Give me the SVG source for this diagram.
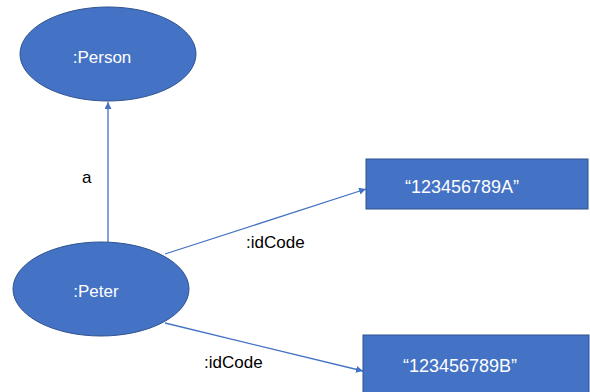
<svg xmlns="http://www.w3.org/2000/svg" width="590" height="392" viewBox="0 0 590 392">
  <style>
    .node { fill: #4472C4; stroke: #2F528F; stroke-width: 1; }
    .ntext { fill: #FFFFFF; font-family: "Liberation Sans", Arial, sans-serif; font-size: 17px; text-anchor: middle; }
    .lit { fill: #FFFFFF; font-family: "Liberation Sans", Arial, sans-serif; font-size: 18px; }
    .edge { stroke: #4472C4; stroke-width: 1.3; fill: none; marker-end: url(#arrow); }
    .elabel { fill: #000000; font-family: "Liberation Sans", Arial, sans-serif; font-size: 17px; }
  </style>
  <defs>
    <marker id="arrow" viewBox="0 0 10 10" refX="10" refY="5" markerWidth="7" markerHeight="7" markerUnits="userSpaceOnUse" orient="auto">
      <path d="M0,0 L10,5 L0,10 z" fill="#4472C4"/>
    </marker>
  </defs>
  <rect width="590" height="392" fill="#FFFFFF"/>

  <g id="connectors">
    <line class="edge" x1="108" y1="242" x2="108" y2="102"/>
    <line class="edge" x1="165" y1="254" x2="366" y2="189"/>
    <line class="edge" x1="165" y1="323" x2="363" y2="371"/>
    <text class="elabel" x="82" y="183">a</text>
    <text class="elabel" x="246" y="248">:idCode</text>
    <text class="elabel" x="204" y="368">:idCode</text>
  </g>

  <g id="person">
    <ellipse class="node" cx="108" cy="54" rx="88" ry="47"/>
    <text class="ntext" x="102" y="63">:Person</text>
  </g>

  <g id="peter">
    <ellipse class="node" cx="101" cy="289" rx="88" ry="47"/>
    <text class="ntext" x="96" y="297">:Peter</text>
  </g>

  <g id="codeA">
    <rect class="node" x="366" y="159" width="222" height="50"/>
    <text class="lit" x="405" y="193">“123456789A”</text>
  </g>

  <g id="codeB">
    <rect class="node" x="363" y="335" width="226" height="60"/>
    <text class="lit" x="403" y="372">“123456789B”</text>
  </g>
</svg>
